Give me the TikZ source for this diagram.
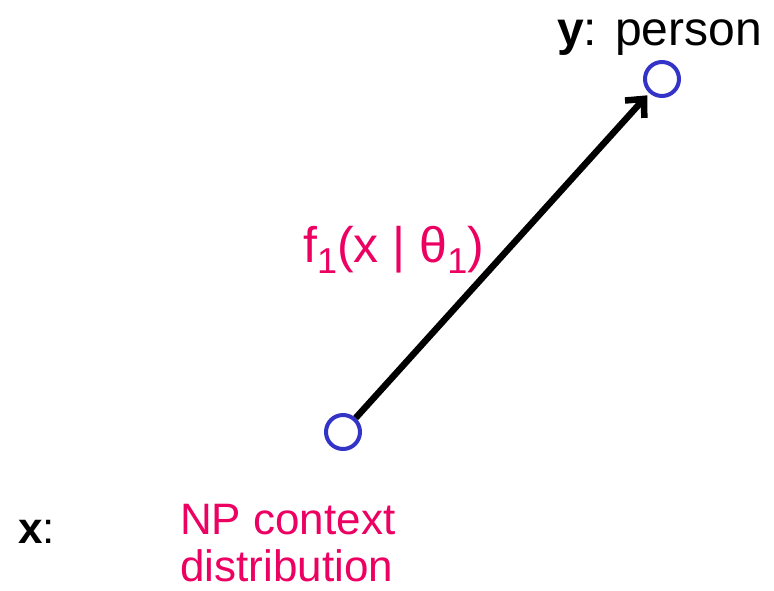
\documentclass[tikz,border=0pt]{standalone}
\usepackage{fontspec}
\setmainfont{Liberation Sans}
\usetikzlibrary{arrows.meta}
\definecolor{pinktxt}{HTML}{EC0062}
\definecolor{nodeblue}{HTML}{3333C8}
\newcommand{\lowsub}[1]{\raisebox{-0.22em}{\fontsize{36}{36}\selectfont #1}}
\tikzset{
  varnode/.style={circle,draw=nodeblue,line width=4pt,minimum size=34pt,inner sep=0pt,fill=white},
  lbl/.style={inner sep=0pt,anchor=base west,font=\fontsize{44}{48}\selectfont},
  pinklbl/.style={lbl,text=pinktxt},
  edge/.style={line width=6.5pt,-{Straight Barb[length=14pt,width=26pt,line width=6.5pt]},shorten >=3pt}
}
\begin{document}
\begin{tikzpicture}[x=1pt,y=-1pt]
\useasboundingbox (0,0) rectangle (774,590);
\node[varnode] (a) at (343,432) {};
\node[varnode] (b) at (662,79) {};
\draw[edge] (a) -- (b);
\node[lbl,font=\fontsize{48}{52}\selectfont] (ylab) at (557,45) {\textbf{y}: person};
\node[pinklbl,font=\fontsize{50}{54}\selectfont] (flab) at (303,262) {f\lowsub{1}(x | θ\lowsub{1})};
\node[lbl] (xlab) at (18,543) {\textbf{x}:};
\node[pinklbl] (np1) at (180,534) {NP context};
\node[pinklbl] (np2) at (180,581) {distribution};
\end{tikzpicture}
\end{document}
